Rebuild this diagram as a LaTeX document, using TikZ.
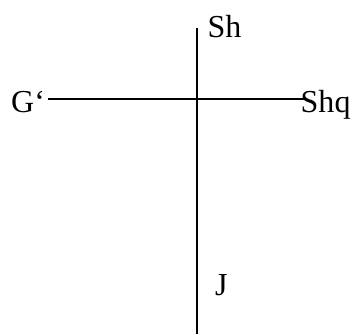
\documentclass[tikz,border=0pt]{standalone}
\usepackage{fontspec}
\setmainfont{Liberation Serif}
\tikzset{
  lbl/.style={anchor=base west, inner sep=0pt, font=\fontsize{32}{38}\selectfont},
  axis/.style={line width=1.8pt}
}
\begin{document}
\begin{tikzpicture}[x=1pt,y=-1pt]
\useasboundingbox (0,0) rectangle (352,334);
\coordinate (vtop) at (197,28);
\coordinate (vbot) at (197,334);
\coordinate (hleft) at (48,99);
\coordinate (hright) at (307,99);
\draw[axis] (vtop) -- (vbot);
\node[lbl] (sh) at (207.5,38) {Sh};
\node[lbl] (g) at (11,112) {G‘};
\node[lbl] (shq) at (300.5,112) {Shq};
\node[lbl] (j) at (215,295) {J};
\draw[axis] (hleft) -- (hright);
\end{tikzpicture}
\end{document}
